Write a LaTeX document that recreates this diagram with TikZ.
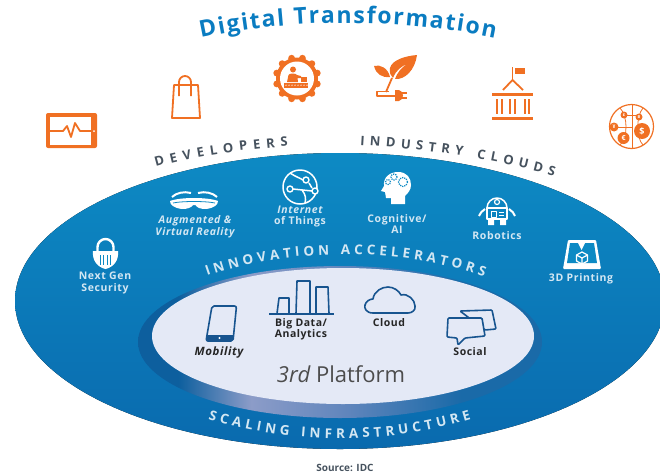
\documentclass[tikz,border=0pt]{standalone}
\usepackage{xcolor}
\usepackage{fontspec}
\setmainfont{Open Sans}
\usetikzlibrary{decorations.text}
\definecolor{titleblue}{HTML}{0A7CC1}
\definecolor{iconorange}{HTML}{F07023}
\definecolor{ringtop}{HTML}{0D8AC4}
\definecolor{ringbottom}{HTML}{0A6AAE}
\definecolor{coreface}{HTML}{E4E9F6}
\definecolor{coreblue}{HTML}{17548F}
\definecolor{capgray}{HTML}{46525E}
\definecolor{paleblue}{HTML}{D3E7F3}
\definecolor{rimdark}{HTML}{0D5F9E}
\definecolor{rimpale}{HTML}{8C9CC8}
\definecolor{rimmid}{HTML}{5F85BC}
\definecolor{rimright}{HTML}{1A6AA8}
\pgfdeclarehorizontalshading{rimshade}{100bp}{color(0bp)=(rimdark); color(30bp)=(rimdark); color(39bp)=(rimpale); color(51bp)=(rimmid); color(65bp)=(rimright); color(100bp)=(rimright)}
\begin{document}
\begin{tikzpicture}[x=1pt, y=-1pt, line join=round,
		arctext/.style={decorate, decoration={text along path, text align=fit to path}},
		orangeline/.style={draw=iconorange, line width=1.8pt},
		whiteline/.style={draw=white, line width=1.5pt},
		coreline/.style={draw=coreblue, line width=1.6pt},
		acc/.style={text=paleblue, align=center, font=\fontsize{10.5}{11.5}\selectfont\bfseries\addfontfeature{LetterSpace=6}},
		plat/.style={text=black!85, align=center, font=\fontsize{10.5}{11}\selectfont\bfseries\addfontfeature{LetterSpace=5}}]
		\useasboundingbox (0,0) rectangle (660,474);
		\clip (0,0) rectangle (660,474);
		\fill[top color=ringtop, bottom color=ringbottom] (340,301) ellipse [x radius=325pt, y radius=148pt];
		\shade[shading=rimshade] (340,342) ellipse [x radius=202pt, y radius=76pt];
		\fill[coreface] (343,336) ellipse [x radius=191pt, y radius=68pt];

		\path[arctext, decoration={text={|\color{titleblue}\fontsize{23}{23}\selectfont\bfseries|Digital Transformation}}] (201,38) .. controls (295,18) and (400,18) .. (495,38);
		\path[arctext, decoration={text={|\color{capgray}\fontsize{13}{13}\selectfont\bfseries|DEVELOPERS}}] (156,167) .. controls (198,155) and (243,150) .. (288,146);
		\path[arctext, decoration={text={|\color{capgray}\fontsize{13}{13}\selectfont\bfseries|INDUSTRY CLOUDS}}] (360,145) .. controls (425,149) and (490,158) .. (554,176);
		\path[arctext, decoration={text={|\color{paleblue}\fontsize{13.5}{13.5}\selectfont\bfseries|INNOVATION ACCELERATORS}}] (207,276) .. controls (290,247) and (400,247) .. (484,277);
		\path[arctext, decoration={text={|\color{paleblue}\fontsize{13.5}{13.5}\selectfont\bfseries|SCALING INFRASTRUCTURE}}] (208,419) .. controls (295,445) and (385,445) .. (471,419);

		\node[acc] (security) at (105,283) {Next Gen\\Security};
		\node[acc] (reality) at (195,227) {\itshape Augmented \&\\\itshape Virtual Reality};
		\node[acc] (things) at (300,216.5) {\itshape Internet\\of Things};
		\node[acc] (cognitive) at (397,224) {Cognitive/\\AI};
		\node[acc] (robotics) at (497,236) {Robotics};
		\node[acc] (printing) at (581,279) {3D Printing};
		\node[plat, font=\fontsize{11.5}{11}\selectfont\bfseries\addfontfeature{LetterSpace=5}] (mobility) at (219,353) {\itshape Mobility};
		\node[plat] (bigdata) at (301,329) {Big Data/\\Analytics};
		\node[plat] (cloud) at (389,323) {Cloud};
		\node[plat] (social) at (470,352) {Social};
		\node[text=black!70, font=\fontsize{22}{22}\selectfont] (platform) at (341,374) {\itshape 3rd \upshape Platform};
		\node[text=capgray, font=\fontsize{10}{10}\selectfont\bfseries] (source) at (345,468) {Source: IDC};

		% orange row
		\fill[iconorange, rounded corners=2pt] (46,113) rectangle (97,148);
		\fill[white] (49.5,116.5) rectangle (91,144.5);
		\fill[white] (94,131) circle (1pt);
		\draw[orangeline] (49,131) -- (63,131) -- (67,126) -- (71,137) -- (75,123) -- (80,131) -- (91,131);

		\draw[orangeline] (174,85) -- (198,85) -- (200,118) -- (172,118) -- cycle;
		\draw[orangeline] (179,96) -- (179,82) arc (180:0:6pt) -- (191,96);

		\fill[iconorange] (297,78.5) circle (21pt);
		\foreach \a in {0,30,...,330}
			\fill[iconorange] (297,78.5) ++(\a+15:21pt) circle (3.4pt);
		\fill[white] (297,78.5) circle (17pt);
		\fill[iconorange] (293,69.5) circle (3pt);
		\fill[iconorange] (287,82) -- (288.5,75) .. controls (289,73) and (296,73) .. (297,75) -- (301,76) -- (301,78) -- (297.5,78) -- (298,82) -- cycle;
		\fill[iconorange] (301,76.5) rectangle (307,82);
		\fill[iconorange] (284,83) rectangle (308,87.5);
		\foreach \x in {286,289,...,307}
			\fill[white] (\x,85.2) circle (0.7pt);

		\fill[iconorange] (417,55) .. controls (405,56) and (392,60) .. (390,68) .. controls (389,73) and (391,76) .. (393,78) .. controls (396,70) and (402,66) .. (407,64) .. controls (401,68) and (397,73) .. (395,79) .. controls (405,80) and (415,70) .. (417,55) -- cycle;
		\fill[iconorange] (374,66) .. controls (380,64) and (388,68) .. (390,77) .. controls (382,78) and (376,74) .. (374,66) -- cycle;
		\draw[iconorange, line width=1.8pt] (392,78) -- (386,92);
		\draw[iconorange, line width=1.4pt] (389,91.5) -- (377,91.5) -- (377,96) -- (396,96);
		\fill[iconorange] (395,90) -- (399,90) .. controls (402,91) and (403,93) .. (403,95.5) .. controls (403,98) and (402,100) .. (399,101) -- (395,101) -- cycle;
		\draw[iconorange, line width=1.2pt] (402,93) -- (407,93) (402,98) -- (407,98);

		\draw[orangeline] (512.5,67) -- (512.5,80);
		\fill[iconorange] (515,68) rectangle (525,74);
		\draw[orangeline] (503,90) -- (512.5,80) -- (523,90);
		\fill[iconorange] (492,93) rectangle (533,96);
		\fill[iconorange] (492,117) rectangle (533,120);
		\foreach \x in {497,502,510,515,525,529}
			\draw[iconorange, line width=1.5pt] (\x,99) -- (\x,114);

		\draw[iconorange, line width=1.2pt] (631.5,126.5) circle (22pt);
		\draw[iconorange, line width=0.8pt] (632,105) -- (632,148) (614,127) -- (632,127) (623,115) -- (639,115);
		\draw[iconorange, line width=0.8pt] (620,108) .. controls (628,116) and (628,138) .. (620,145) (643,108) .. controls (636,116) and (636,138) .. (643,145);
		\fill[iconorange] (642,131) circle (8pt);
		\node[text=white, inner sep=0pt, font=\fontsize{9}{9}\selectfont\bfseries] (dollar) at (642,131) {\$};
		\fill[iconorange] (623.5,138) circle (6pt);
		\node[text=white, inner sep=0pt, font=\fontsize{7}{7}\selectfont\bfseries] (euro) at (623.5,138) {€};
		\fill[iconorange] (614,127) circle (4.5pt);
		\node[text=white, inner sep=0pt, font=\fontsize{5}{5}\selectfont\bfseries] (yen) at (614,127) {¥};
		\fill[iconorange] (624,115) circle (3.5pt);
		\node[text=white, inner sep=0pt, font=\fontsize{4}{4}\selectfont\bfseries] (pound) at (624,115) {£};
		\fill[iconorange] (639,117) circle (3.5pt);
		\node[text=white, inner sep=0pt, font=\fontsize{4}{4}\selectfont\bfseries] (baht) at (639,117) {B};

		% white row
		\draw[draw=white, line width=2.4pt] (97.5,253) -- (97.5,247) arc (180:0:8pt) -- (113.5,253);
		\fill[white] (93,251) -- (118,251) .. controls (119,260) and (114,267) .. (105.5,269) .. controls (97,267) and (92,260) .. (93,251) -- cycle;
		\foreach \x in {100,103.5,107,110.5}
			\draw[ringtop, line width=0.9pt] (\x,255) -- (\x,265);

		\draw[draw=white, line width=2pt] (172,197) .. controls (176,193) and (184,191) .. (191,193);
		\draw[draw=white, line width=2pt] (217,197) .. controls (213,193) and (205,191) .. (198,193);
		\fill[white] (170,201) .. controls (180,197) and (208,197) .. (218,201) .. controls (218,205) and (214,208) .. (206,209) .. controls (201,209) and (197,208) .. (195.5,205) -- (193,205) .. controls (191,208) and (187,209) .. (182,209) .. controls (174,208) and (170,205) .. (170,201) -- cycle;
		\draw[ringtop, line width=0.8pt] (173,203) .. controls (182,201) and (206,201) .. (215,203);

		\draw[whiteline] (300,187) circle (17pt);
		\draw[whiteline] (293,189) -- (312,191) (290,173) .. controls (296,177) and (300,178) .. (303,180) (309,183) -- (312,188) (302,190) .. controls (306,195) and (306,199) .. (305,203);
		\foreach \x/\y in {306/180,290/189,315/191}
			\filldraw[draw=white, fill=ringtop, line width=1.4pt] (\x,\y) circle (3pt);

		\fill[white] (391,204) -- (391,198) -- (386,198) -- (385,192) -- (381,191) -- (384,186) .. controls (383,177) and (390,172) .. (398,172) .. controls (407,172) and (411,178) .. (411,185) .. controls (411,190) and (408,193) .. (405,196) -- (405,204) -- cycle;
		\draw[ringtop, line width=1.2pt, densely dotted] (394,177) circle (3pt) (403,182) circle (4.5pt) (388,182) circle (2.5pt);

		\draw[whiteline] (487,208) arc (180:0:10pt) -- cycle;
		\draw[draw=white, line width=1.2pt] (497,202) circle (2.5pt);
		\draw[whiteline] (487,208) rectangle (507,219);
		\draw[draw=white, line width=1pt] (491,211) rectangle (496,217);
		\draw[draw=white, line width=1pt] (499,212) -- (504,212) (499,215) -- (504,215);
		\fill[white] (488,220) rectangle (494,225) (500,220) rectangle (506,225);
		\draw[draw=white, line width=2pt] (485,209) .. controls (482,211) and (480,213) .. (479,216) (509,209) .. controls (512,211) and (514,213) .. (515,216);

		\fill[white, rounded corners=1pt] (568,240) -- (596,240) -- (601,269) -- (563,269) -- cycle;
		\fill[ringtop] (570,243) -- (594,243) -- (597,263) -- (567,263) -- cycle;
		\fill[white] (578,243) -- (585,243) -- (581.5,250) -- cycle;
		\draw[draw=white, line width=1.2pt] (582,252) -- (587.5,255) -- (587.5,261) -- (582,264) -- (576.5,261) -- (576.5,255) -- cycle (576.5,255) -- (582,258) -- (587.5,255) (582,258) -- (582,264);

		% core row
		\draw[coreline, rounded corners=2pt] (212,306) -- (236.5,306) -- (233,341) -- (206,341) -- cycle;
		\fill[coreblue, rounded corners=1pt] (207,335) -- (233.6,335) -- (233,341) -- (206,341) -- cycle;
		\fill[white] (219.5,338) circle (1.2pt);

		\draw[coreline] (277,313.5) -- (279,298) -- (289,298) -- (289,313.5);
		\draw[coreline] (296,313.5) -- (297,281) -- (310,281) -- (310,313.5);
		\draw[coreline] (316,313.5) -- (316,287) -- (328,287) -- (329,313.5);
		\draw[coreline] (269,313.7) -- (334,313.7);

		\draw[coreline] (373,313) .. controls (366,313) and (364,308) .. (365,305) .. controls (366,301) and (370,299) .. (373,299) .. controls (374,291) and (382,287) .. (388,287) .. controls (394,287) and (399,291) .. (401,295) .. controls (408,293) and (415,300) .. (415,306) .. controls (416,310) and (412,313) .. (408,313) -- cycle;

		\draw[coreline, rounded corners=1pt] (460,311) -- (492,310) -- (496,329) -- (485,330) -- cycle;
		\filldraw[coreline, fill=coreface, rounded corners=1pt] (448,318) -- (482,318) -- (485,336) -- (465,338) -- (458,345) -- (457,338) -- (447,337) -- cycle;
	\end{tikzpicture}
\end{document}
